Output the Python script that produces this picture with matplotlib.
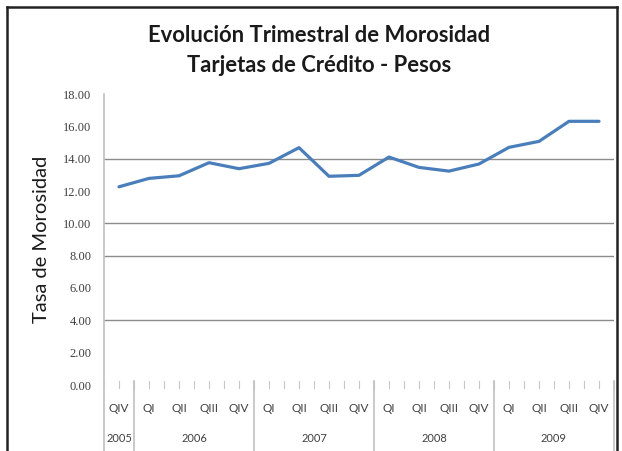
import matplotlib
matplotlib.use("Agg")
import matplotlib.pyplot as plt
from matplotlib.lines import Line2D
import numpy as np

quarters = ["QIV", "QI", "QII", "QIII", "QIV", "QI", "QII", "QIII", "QIV",
            "QI", "QII", "QIII", "QIV", "QI", "QII", "QIII", "QIV"]
years = ["2005", "2006", "2007", "2008", "2009"]
year_counts = [1, 4, 4, 4, 4]
values = [12.26, 12.78, 12.94, 13.75, 13.38, 13.71, 14.68, 12.91, 12.97,
          14.10, 13.46, 13.23, 13.67, 14.70, 15.07, 16.31, 16.31]
yticks = [0, 2, 4, 6, 8, 10, 12, 14, 16, 18]
gridlines = [4, 8, 10, 14]

W, H = 622, 451
fig = plt.figure(figsize=(W / 100, H / 100), dpi=100)

def fx(px):
    return px / W

def fy(py):
    return 1 - py / H

ax = fig.add_axes([fx(104), fy(385), fx(614) - fx(104), fy(94) - fy(385)])
x = np.arange(len(values))
ax.plot(x, values, color="#4A7EBB", lw=2.3, solid_joinstyle="round", solid_capstyle="round", zorder=3)
ax.set_xlim(-0.5, len(values) - 0.5)
ax.set_ylim(0, 18)
for g in gridlines:
    ax.axhline(g, color="#8c8c8c", lw=1.0, zorder=1)
for s in ax.spines.values():
    s.set_visible(False)
ax.set_xticks([])
ax.set_yticks(yticks)
ax.set_yticklabels([f"{v:.2f}" for v in yticks], family="Liberation Serif", fontsize=9, color="#404040")
ax.tick_params(axis="y", length=0, pad=9)

# vertical axis line (extends below plot)
fig.add_artist(Line2D([fx(104), fx(104)], [fy(94), fy(451)], color="#c0c0c0", lw=1.2))

# small ticks at every half category
for i in range(2 * len(values) + 1):
    pos = -0.5 + i * 0.5
    xx = ax.transData.transform((pos, 0))[0] / W
    fig.add_artist(Line2D([xx, xx], [fy(381), fy(388)], color="#c8c8c8", lw=0.8))

# group separators and labels
start = 0
for yr, n in zip(years, year_counts):
    end = start + n
    xe = ax.transData.transform((end - 0.5, 0))[0] / W
    fig.add_artist(Line2D([xe, xe], [fy(381), fy(451)], color="#c0c0c0", lw=1.2))
    xc = ax.transData.transform(((start + end - 1) / 2, 0))[0] / W
    fig.text(xc, fy(438), yr, ha="center", va="center", family="Lato",
             fontsize=8, color="#404040")
    start = end

for i, q in enumerate(quarters):
    xc = ax.transData.transform((i, 0))[0] / W
    fig.text(xc, fy(408), q, ha="center", va="center", family="Lato",
             fontsize=8.5, color="#404040")

fig.text(fx(319), fy(36), "Evolución Trimestral de Morosidad", ha="center", va="center",
         family="Lato", fontweight="bold", fontsize=15.8, color="#1a1a1a")
fig.text(fx(319), fy(66), "Tarjetas de Crédito - Pesos", ha="center", va="center",
         family="Lato", fontweight="bold", fontsize=15.8, color="#1a1a1a")
fig.text(fx(42), fy(239), "Tasa de Morosidad", ha="center", va="center", rotation=90,
         family="Lato", fontsize=14.5, color="#1a1a1a")

# outer frame
for xs, ys in [([7, 7], [7, 451]), ([7, 617], [7, 7]), ([617, 617], [7, 451])]:
    fig.add_artist(Line2D([fx(v) for v in xs], [fy(v) for v in ys], color="#222222", lw=1.8))

fig.savefig("out.png", dpi=100)
